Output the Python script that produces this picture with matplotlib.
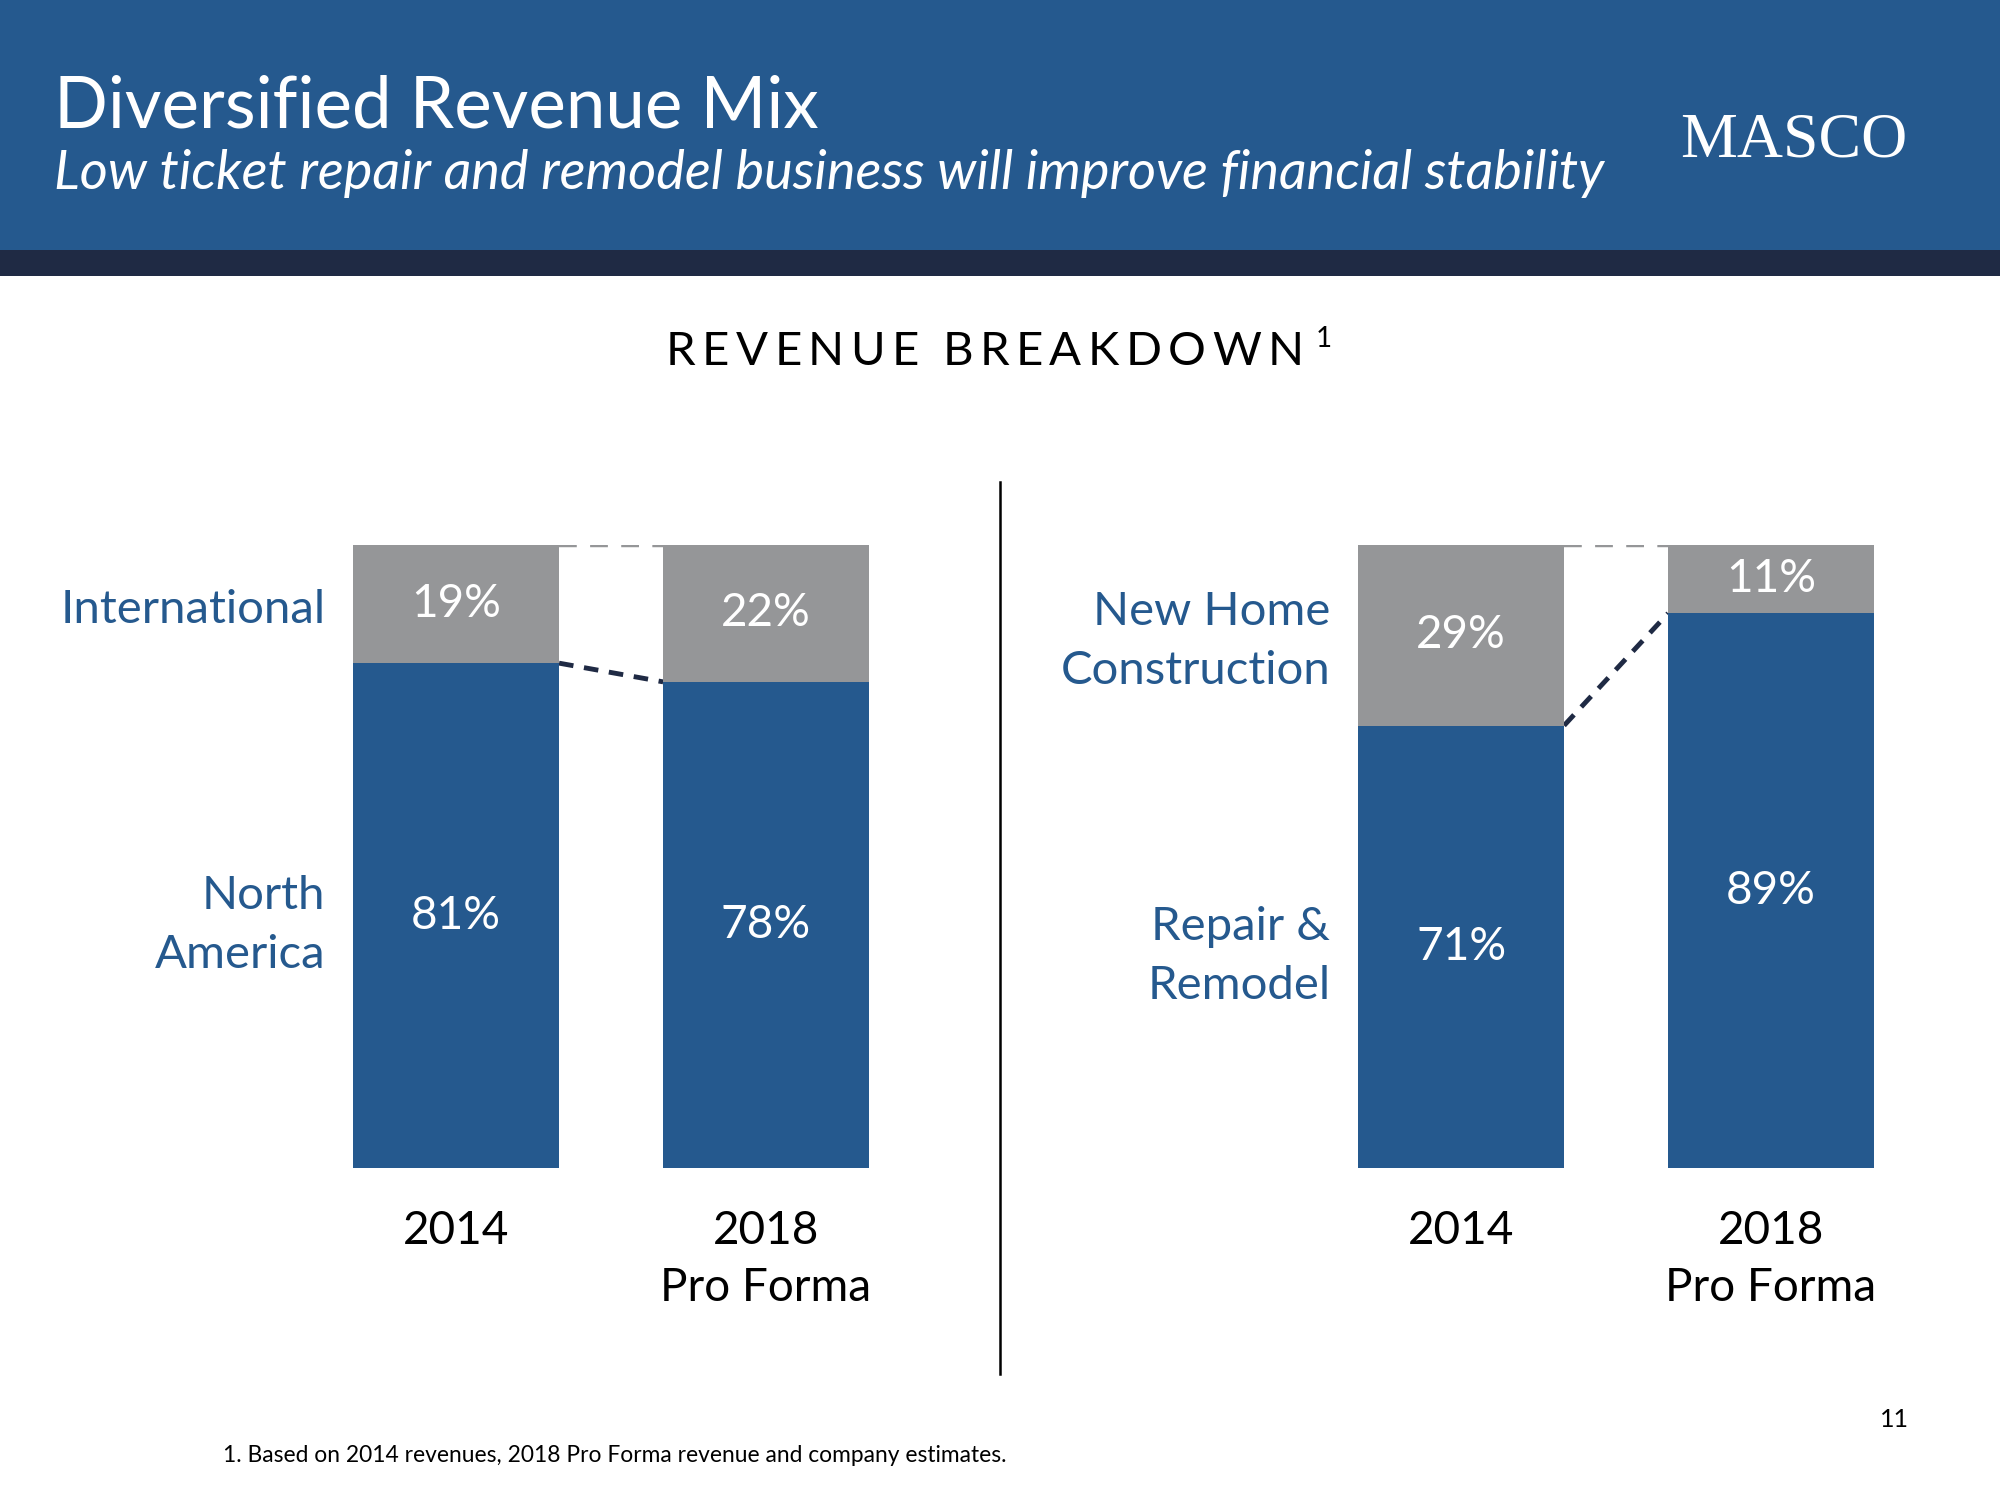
import matplotlib.pyplot as plt
from matplotlib.patches import Rectangle
from matplotlib.lines import Line2D

plt.rcParams['font.family'] = ['Lato', 'DejaVu Sans']

# data
years = ['2014', '2018\nPro Forma']
intl = [19, 22]
north_am = [81, 78]
new_home = [29, 11]
repair = [71, 89]

blue = '#25598E'
gray = '#959698'
dark = '#1F2A44'

fig = plt.figure(figsize=(20, 15), dpi=100)
renderer = fig.canvas.get_renderer()

# header bands
fig.add_artist(Rectangle((0, 0.8333), 1, 0.1667, transform=fig.transFigure,
                         facecolor=blue, edgecolor='none'))
fig.add_artist(Rectangle((0, 0.8163), 1, 0.0170, transform=fig.transFigure,
                         facecolor=dark, edgecolor='none'))

fig.text(0.0268, 0.915, 'Diversified Revenue Mix', color='white',
         fontsize=51, va='baseline', ha='left')
fig.text(0.0268, 0.874, 'Low ticket repair and remodel business will improve financial stability',
         color='white', fontsize=39, style='italic', va='baseline', ha='left')
fig.text(0.8967, 0.8954, 'MASCO', color='white', fontsize=46,
         family='Liberation Serif', va='baseline', ha='center')

# letter-spaced section heading
heading = 'REVENUE BREAKDOWN'
x0, x1 = 0.3329, 0.6518   # left edge of R, right edge of N
y_head = 0.7568
word_gap = 2.6
parts = []
for c in heading:
    if c == ' ':
        parts.append(None)
        continue
    t = fig.text(0, y_head, c, fontsize=34, va='baseline', ha='left')
    parts.append((t, t.get_window_extent(renderer).width / 2000))
letters_w = sum(p[1] for p in parts if p is not None)
n_gaps = len(heading) - 2
gap = (x1 - x0 - letters_w) / (n_gaps + word_gap)
x = x0
for p in parts:
    if p is None:
        x += gap * word_gap
        continue
    p[0].set_x(x)
    x += p[1] + gap
fig.text(x - gap + 0.006, y_head + 0.012, '1', fontsize=20, va='baseline', ha='left')

# divider
fig.add_artist(Line2D([0.5, 0.5], [0.0842, 0.6786], transform=fig.transFigure,
                      color='black', linewidth=1.8))

w = 0.664


def draw_panel(ax, bottom_vals, top_vals, bottom_label, top_label):
    x = [0, 1]
    ax.bar(x, bottom_vals, width=w, color=blue, zorder=2)
    ax.bar(x, top_vals, width=w, bottom=bottom_vals, color=gray, zorder=2)
    for i in x:
        ax.text(i, bottom_vals[i] / 2, f'{bottom_vals[i]}%', color='white',
                fontsize=33, ha='center', va='center')
        ax.text(i, bottom_vals[i] + top_vals[i] / 2, f'{top_vals[i]}%', color='white',
                fontsize=33, ha='center', va='center')
    # connectors
    ax.plot([w / 2, 1 - w / 2], [100, 100], color=gray, linewidth=3.2,
            linestyle=(0, (4, 3)), zorder=1)
    ax.plot([w / 2, 1 - w / 2], [bottom_vals[0], bottom_vals[1]], color=dark,
            linewidth=3.5, linestyle=(0, (3, 2.2)), zorder=1)
    # category labels
    ax.text(-0.4227, bottom_vals[0] + top_vals[0] / 2 - 1, top_label, color=blue,
            fontsize=34, ha='right', va='center', linespacing=1.5)
    ax.text(-0.4227, bottom_vals[0] / 2 - 1.5, bottom_label, color=blue,
            fontsize=34, ha='right', va='center', linespacing=1.5)
    ax.set_xlim(-0.332, 1.332)
    ax.set_ylim(0, 100)
    ax.set_xticks(x, years)
    ax.tick_params(axis='x', length=0, pad=30, labelsize=33)
    ax.tick_params(axis='y', left=False, labelleft=False)
    for s in ax.spines.values():
        s.set_visible(False)
    for lbl in ax.get_xticklabels():
        lbl.set_linespacing(1.45)


ax1 = fig.add_axes([0.1767, 0.2211, 0.2577, 0.4158])
draw_panel(ax1, north_am, intl, 'North\nAmerica', 'International')

ax2 = fig.add_axes([0.6792, 0.2211, 0.2577, 0.4158])
draw_panel(ax2, repair, new_home, 'Repair &\nRemodel', 'New Home\nConstruction')

fig.text(0.1116, 0.0255, '1. Based on 2014 revenues, 2018 Pro Forma revenue and company estimates.',
         fontsize=16.4, va='baseline', ha='left')
fig.text(0.947, 0.0485, '11', fontsize=18, va='baseline', ha='center')

plt.savefig('out.png')
